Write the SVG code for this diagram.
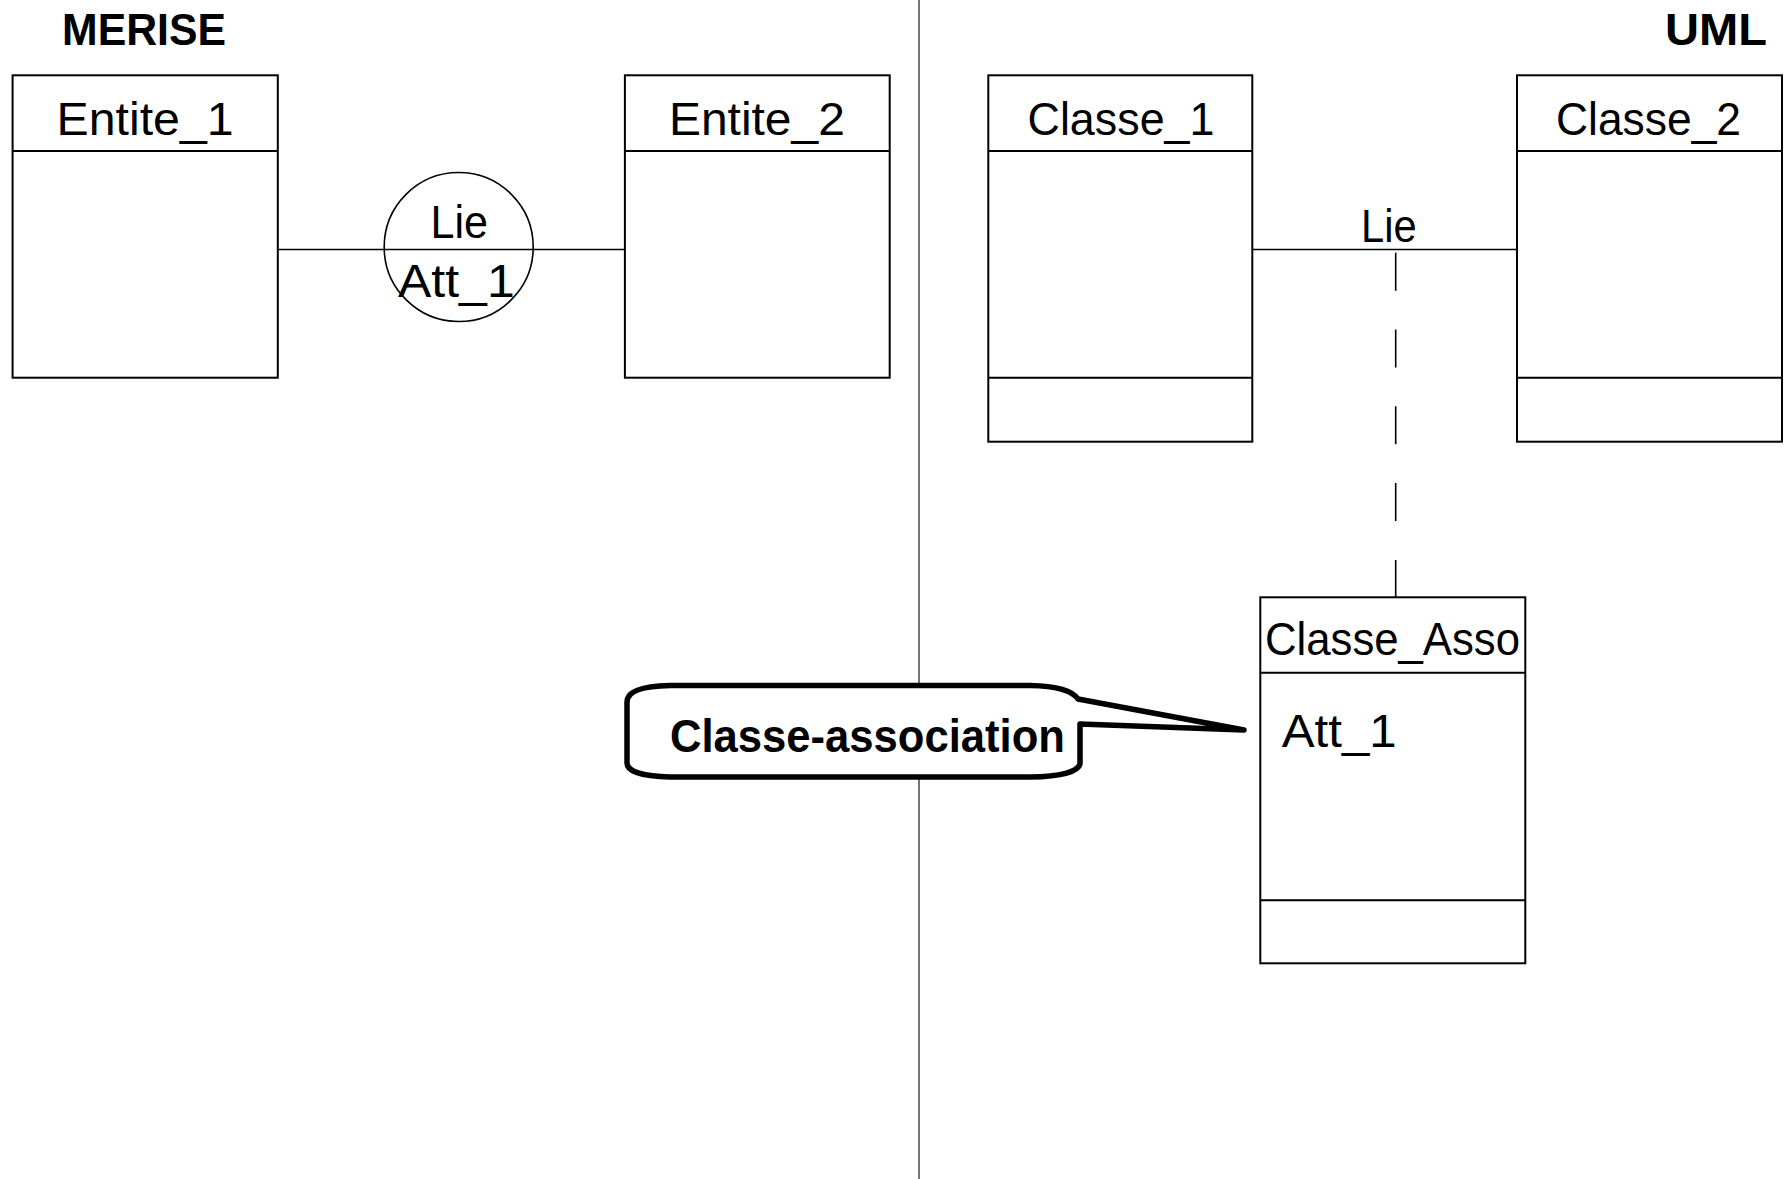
<svg xmlns="http://www.w3.org/2000/svg" width="1787" height="1179" viewBox="0 0 1787 1179">
<style>
.box{fill:#fff;stroke:#000;stroke-width:2}
.div{stroke:#000;stroke-width:2;fill:none}
.t{font-family:"Liberation Sans",Arial,sans-serif;font-size:46px;fill:#000}
.b{font-family:"Liberation Sans",Arial,sans-serif;font-weight:bold;fill:#000}
.conn{stroke:#000;stroke-width:1.6;fill:none}
</style>
<rect x="0" y="0" width="1787" height="1179" fill="#fff"/>
<line x1="919" y1="0" x2="919" y2="1179" stroke="#000" stroke-width="1.1"/>
<text class="b" x="62" y="45" font-size="44" textLength="164" lengthAdjust="spacingAndGlyphs">MERISE</text>
<text class="b" x="1665" y="45" font-size="44" textLength="102" lengthAdjust="spacingAndGlyphs">UML</text>
<g id="connectors">
<line class="conn" x1="278" y1="249.5" x2="625" y2="249.5"/>
<line class="conn" x1="1252" y1="249.5" x2="1517" y2="249.5"/>
<line class="conn" x1="1395.7" y1="252.7" x2="1395.7" y2="597" stroke-dasharray="38 38.8"/>
</g>
<g id="entite1">
<rect class="box" x="12.6" y="75.3" width="265.2" height="302.4"/>
<line class="div" x1="12.6" y1="151" x2="277.8" y2="151"/>
<text class="t" x="56.6" y="135" textLength="177" lengthAdjust="spacingAndGlyphs">Entite_1</text>
</g>
<g id="entite2">
<rect class="box" x="624.9" y="75.3" width="264.8" height="302.4"/>
<line class="div" x1="624.9" y1="151" x2="889.7" y2="151"/>
<text class="t" x="668.9" y="135" textLength="176" lengthAdjust="spacingAndGlyphs">Entite_2</text>
</g>
<g id="lie-merise">
<circle cx="458.7" cy="247" r="74.5" fill="none" stroke="#000" stroke-width="1.6"/>
<text class="t" x="430.5" y="237.7" textLength="57.5" lengthAdjust="spacingAndGlyphs">Lie</text>
<text class="t" x="398" y="296.7" textLength="116.7" lengthAdjust="spacingAndGlyphs">Att_1</text>
</g>
<g id="classe1">
<rect class="box" x="988.3" y="75.3" width="264" height="366.4"/>
<line class="div" x1="988.3" y1="151" x2="1252.3" y2="151"/>
<line class="div" x1="988.3" y1="377.7" x2="1252.3" y2="377.7"/>
<text class="t" x="1027.5" y="135" textLength="187" lengthAdjust="spacingAndGlyphs">Classe_1</text>
</g>
<g id="classe2">
<rect class="box" x="1517" y="75.3" width="265" height="366.4"/>
<line class="div" x1="1517" y1="151" x2="1782" y2="151"/>
<line class="div" x1="1517" y1="377.7" x2="1782" y2="377.7"/>
<text class="t" x="1556" y="135" textLength="185" lengthAdjust="spacingAndGlyphs">Classe_2</text>
</g>
<g id="lie-uml">
<text class="t" x="1361" y="242" textLength="55.6" lengthAdjust="spacingAndGlyphs">Lie</text>
</g>
<g id="classe-asso">
<rect class="box" x="1260.3" y="597.3" width="265" height="366"/>
<line class="div" x1="1260.3" y1="672.8" x2="1525.3" y2="672.8"/>
<line class="div" x1="1260.3" y1="900.2" x2="1525.3" y2="900.2"/>
<text class="t" x="1265" y="655" textLength="255" lengthAdjust="spacingAndGlyphs">Classe_Asso</text>
<text class="t" x="1281.7" y="746.7" textLength="115" lengthAdjust="spacingAndGlyphs">Att_1</text>
</g>
<g id="callout">
<path d="M627,702 C627,690 645,686 670,685.5 L1030,685.5 C1055,686 1072,690 1078,699 L1244,730 L1080,724 L1080,764 C1078,772 1060,776.5 1030,777 L670,777 C645,776.5 627,772 627,763 Z" fill="#fff" stroke="#000" stroke-width="5.5" stroke-linejoin="round"/>
<text class="b" x="670" y="751.7" font-size="47" textLength="395" lengthAdjust="spacingAndGlyphs">Classe-association</text>
</g>
</svg>
